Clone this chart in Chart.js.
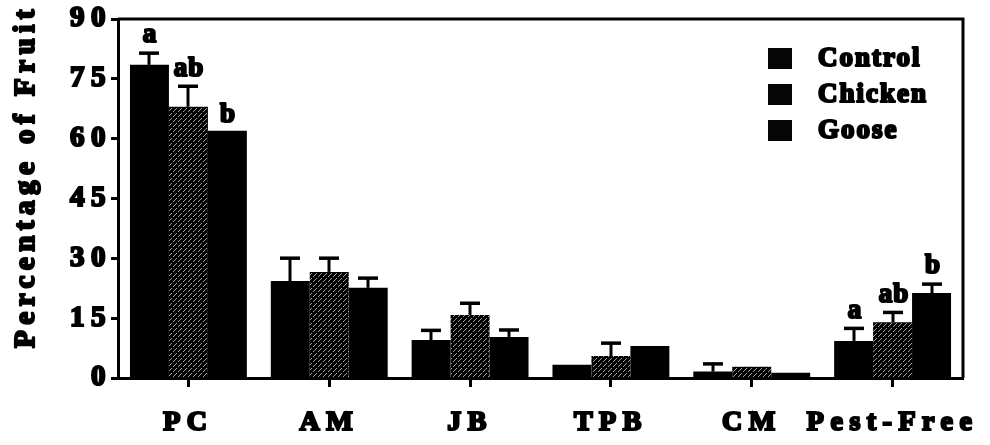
<!DOCTYPE html>
<html>
<head>
<meta charset="utf-8">
<script src="https://cdn.jsdelivr.net/npm/chart.js@4.4.1/dist/chart.umd.min.js"></script>
<style>
  html, body { margin: 0; padding: 0; background: #fff; }
  #wrap { width: 990px; height: 445px; position: relative; }
</style>
</head>
<body>
<div id="wrap"><canvas id="c" width="990" height="445"></canvas></div>
<script>
// Fruit damage categories and treatment means (percentage of fruit)
const categories = ['PC', 'AM', 'JB', 'TPB', 'CM', 'Pest-Free'];
const yTicks = [0, 15, 30, 45, 60, 75, 90];

const controlValues = [78.5, 24.3, 9.5, 3.3, 1.6, 9.3];
const chickenValues = [68.0, 26.6, 15.8, 5.5, 2.8, 14.0];
const gooseValues   = [62.0, 22.6, 10.3, 8.0, 1.3, 21.3];

// Standard errors (upper bars only)
const controlErrors = [3.0, 5.8, 2.5, 0, 2.0, 3.2];
const chickenErrors = [5.2, 3.5, 3.0, 3.3, 0, 2.5];
const gooseErrors   = [0, 2.5, 1.8, 0, 0, 2.3];

// Mean separation letters
const controlLetters = ['a', '', '', '', '', 'a'];
const chickenLetters = ['ab', '', '', '', '', 'ab'];
const gooseLetters   = ['b', '', '', '', '', 'b'];

const FONT = "'Liberation Serif', 'Times New Roman', serif";
const HEAVY = 2.2; // outline width that thickens the bold serif glyphs

// Black fill with broken white diagonal hatching
function hatchPattern() {
  const t = document.createElement('canvas');
  t.width = 10; t.height = 10;
  const g = t.getContext('2d');
  g.fillStyle = '#000';
  g.fillRect(0, 0, 10, 10);
  g.fillStyle = 'rgba(255,255,255,0.62)';
  for (let x = 0; x < 10; x++) {
    for (let y = 0; y < 10; y++) {
      if ((x + y) % 5 === 4 && x % 5 !== 2) g.fillRect(x, y, 1, 1);
    }
  }
  return document.getElementById('c').getContext('2d').createPattern(t, 'repeat');
}

const errorsByDataset = [controlErrors, chickenErrors, gooseErrors];
const lettersByDataset = [controlLetters, chickenLetters, gooseLetters];

function heavyText(ctx, text, x, y) {
  ctx.lineWidth = HEAVY;
  ctx.lineJoin = 'round';
  ctx.strokeStyle = '#000';
  ctx.strokeText(text, x, y);
  ctx.fillText(text, x, y);
}

// wide tracking for the axis tick labels
const spacingPlugin = {
  id: 'spacing',
  beforeLayout(chart) { chart.ctx.letterSpacing = '6.5px'; },
  beforeDraw(chart) { chart.ctx.letterSpacing = '6.5px'; }
};

const decorPlugin = {
  id: 'decor',
  afterDatasetsDraw(chart) {
    const ctx = chart.ctx;
    const ys = chart.scales.y;
    ctx.save();
    ctx.letterSpacing = '1px';
    chart.data.datasets.forEach((ds, i) => {
      const meta = chart.getDatasetMeta(i);
      const errs = errorsByDataset[i];
      const lets = lettersByDataset[i];
      meta.data.forEach((bar, j) => {
        const v = ds.data[j];
        const e = errs[j];
        const x = Math.round(bar.x);
        const yBar = ys.getPixelForValue(v);
        let yTop = yBar;
        if (e > 0) {
          yTop = ys.getPixelForValue(v + e);
          ctx.fillStyle = '#000';
          ctx.fillRect(x - 1.5, yTop, 3, yBar - yTop);
          ctx.fillRect(x - 10, yTop - 1.5, 20, 3.5);
          yTop -= 1.5;
        }
        if (lets[j]) {
          ctx.fillStyle = '#000';
          ctx.font = 'bold 27px ' + FONT;
          ctx.textAlign = 'center';
          ctx.textBaseline = 'alphabetic';
          heavyText(ctx, lets[j], x + 1, yTop - 9);
        }
      });
    });
    ctx.restore();
  },
  afterDraw(chart) {
    const ctx = chart.ctx;
    const a = chart.chartArea;
    ctx.save();
    // plot frame (top and right)
    ctx.strokeStyle = '#000';
    ctx.lineWidth = 3;
    ctx.beginPath();
    ctx.moveTo(a.left, a.top);
    ctx.lineTo(a.right, a.top);
    ctx.lineTo(a.right, a.bottom);
    ctx.stroke();

    // legend
    ctx.letterSpacing = '2px';
    ctx.font = 'bold 27px ' + FONT;
    ctx.textAlign = 'left';
    ctx.textBaseline = 'middle';
    chart.data.datasets.forEach((ds, i) => {
      const cy = a.top + 39 + i * 36;
      const bx = a.right - 195;
      ctx.fillStyle = '#050505';
      ctx.fillRect(bx, cy - 10, 24, 21);
      ctx.fillStyle = '#000';
      heavyText(ctx, ds.label, bx + 50, cy + 1);
    });

    // y-axis title
    ctx.letterSpacing = '5.5px';
    ctx.font = 'bold 29px ' + FONT;
    ctx.translate(27, 179);
    ctx.rotate(-Math.PI / 2);
    ctx.textAlign = 'center';
    ctx.textBaseline = 'middle';
    heavyText(ctx, 'Percentage of Fruit', 3, 0);
    ctx.restore();
  }
};

const tickFont = (size) => ({ family: FONT, size: size, weight: 'bold' });

new Chart(document.getElementById('c'), {
  type: 'bar',
  data: {
    labels: categories,
    datasets: [
      { label: 'Control', data: controlValues, backgroundColor: '#000' },
      { label: 'Chicken', data: chickenValues, backgroundColor: hatchPattern() },
      { label: 'Goose', data: gooseValues, backgroundColor: '#000' }
    ]
  },
  options: {
    responsive: false,
    animation: false,
    events: [],
    layout: { padding: { top: 19, right: 27, left: 0, bottom: 0 } },
    datasets: { bar: { categoryPercentage: 0.83, barPercentage: 1.0, borderWidth: 0 } },
    plugins: { legend: { display: false }, tooltip: { enabled: false } },
    scales: {
      x: {
        offset: true,
        grid: { display: true, drawOnChartArea: false, drawTicks: true, offset: false,
                tickLength: 9, tickWidth: 3, tickColor: '#000' },
        border: { display: true, color: '#000', width: 3 },
        ticks: { color: '#000', padding: 19, maxRotation: 0, autoSkip: false,
                 textStrokeColor: '#000', textStrokeWidth: HEAVY,
                 font: tickFont(28) },
        afterFit(s) { s.height = 67; s.paddingLeft = 0; s.paddingRight = 0; }
      },
      y: {
        min: 0, max: 90,
        afterBuildTicks(s) { s.ticks = yTicks.map(v => ({ value: v })); },
        grid: { display: true, drawOnChartArea: false, drawTicks: true,
                tickLength: 7, tickWidth: 3, tickColor: '#000' },
        border: { display: true, color: '#000', width: 3 },
        ticks: { color: '#000', padding: -1,
                 textStrokeColor: '#000', textStrokeWidth: HEAVY,
                 font: tickFont(29) },
        afterFit(s) { s.width = 118; s.paddingTop = 0; s.paddingBottom = 0; }
      }
    }
  },
  plugins: [spacingPlugin, decorPlugin]
});
</script>
</body>
</html>
